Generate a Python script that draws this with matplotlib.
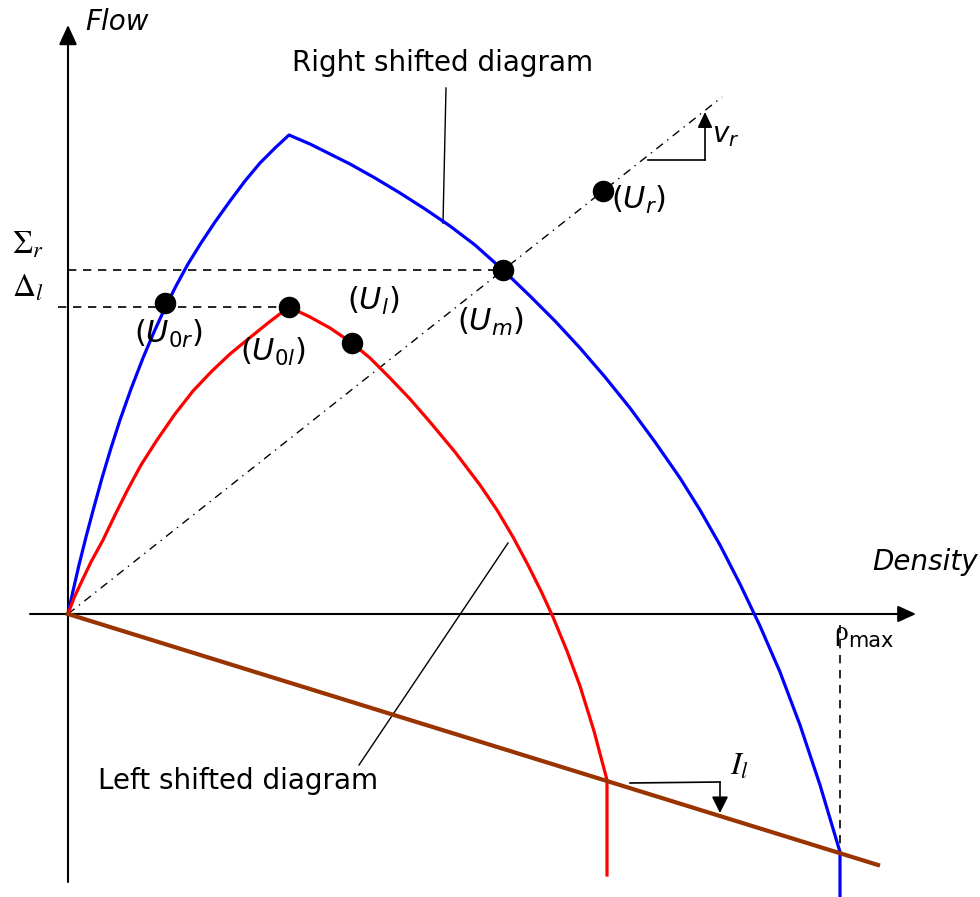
import matplotlib.pyplot as plt
from matplotlib.patches import FancyArrowPatch

# fundamental diagrams, in drawing units (x to the right, y downwards)
blue_x = [68, 73, 79, 86, 94, 102, 111, 120, 131, 143, 154, 165, 176, 188, 201, 215, 230, 245, 260, 275, 289,
          310, 330, 350, 375, 400, 425, 450, 475, 503, 530, 555, 580, 605, 630, 655, 680, 700,
          720, 740, 760, 780, 800, 820, 840, 840]
blue_y = [614, 591, 565, 537, 507, 478, 448, 420, 389, 358, 332, 308, 286, 264, 243, 222, 201, 181, 163, 148, 135,
          144, 154, 164, 178, 193, 209, 226, 245, 270, 296, 321, 348, 377, 408, 442, 478, 510,
          545, 584, 626, 672, 725, 785, 852, 897]

red_x = [68, 74, 80, 91, 103, 115, 127, 141, 157, 175, 193, 212, 230, 247, 268, 289,
         310, 330, 352, 370, 390, 410, 430, 455, 480, 497, 513, 528, 541, 553, 567, 580, 594, 607, 607]
red_y = [614, 598, 585, 562, 540, 515, 491, 465, 440, 414, 391, 371, 354, 340, 323, 307,
         317, 328, 343, 358, 378, 399, 422, 452, 485, 510, 537, 565, 591, 617, 651, 686, 731, 780, 875]

brown_x = [68, 878]
brown_y = [614, 865]

# characteristic through the origin
vr_x = [68, 722]
vr_y = [614, 97]

# states
state_x = [165, 289, 352, 503, 603]
state_y = [303, 307, 343, 270, 191]
state_labels = [r'$(U_{0r})$', r'$(U_{0l})$', r'$(U_l)$', r'$(U_m)$', r'$(U_r)$']
label_x = [134, 240, 347, 457, 611]
label_y = [334, 352, 301, 322, 200]

sigma_level = 270
delta_level = 307
rho_max = 840


def arrow(p0, p1, lw, hl, hw):
    # head sizes given in points
    ax.add_patch(FancyArrowPatch(p0, p1, arrowstyle=f'-|>,head_length={hl},head_width={hw}',
                                 mutation_scale=1, lw=lw, color='black', shrinkA=0, shrinkB=0))


fig = plt.figure(figsize=(9.8, 8.97), dpi=100)
ax = fig.add_axes([0, 0, 1, 1])
ax.set_xlim(0, 980)
ax.set_ylim(897, 0)
ax.axis('off')

# axes
arrow((68, 882), (68, 25), 1.5, 12, 5.5)
arrow((30, 614), (916, 614), 1.5, 11, 5)

ax.plot(blue_x, blue_y, color='#0000ff', lw=2.3, solid_joinstyle='round', zorder=3)
ax.plot(red_x, red_y, color='#ff0000', lw=2.3, solid_joinstyle='round', zorder=3)
ax.plot(brown_x, brown_y, color='#993300', lw=3.0, zorder=3)
ax.plot(vr_x, vr_y, color='black', lw=1.0, ls=(0, (6, 4, 1, 4)), zorder=2)

# dashed level lines
ax.plot([68, state_x[3]], [sigma_level, sigma_level], color='black', lw=1.2, ls=(0, (5, 4)))
ax.plot([58, state_x[1]], [delta_level, delta_level], color='black', lw=1.2, ls=(0, (5, 4)))
ax.plot([rho_max, rho_max], [625, 852], color='black', lw=1.2, ls=(0, (5, 4)))

ax.scatter(state_x, state_y, s=210, color='black', zorder=5)

fs = 20
ax.text(85, 22, 'Flow', fontsize=fs, style='italic', va='center')
ax.text(872, 562, 'Density', fontsize=fs, style='italic', va='center')
ax.text(834, 634, 'ρ', fontsize=fs, family='Liberation Serif', va='center')
ax.text(848, 641, 'max', fontsize=15, va='center')
ax.text(12, 245, r'$\Sigma_r$', fontsize=23, va='center', math_fontfamily='stix')
ax.text(12, 288, r'$\Delta_l$', fontsize=23, va='center', math_fontfamily='stix')

ax.text(292, 63, 'Right shifted diagram', fontsize=fs, va='center')
ax.plot([446, 443], [88, 223], color='black', lw=1.0)
ax.text(98, 781, 'Left shifted diagram', fontsize=fs, va='center', zorder=4)
ax.plot([508, 359], [543, 765], color='black', lw=1.0)

for lx, ly, t in zip(label_x, label_y, state_labels):
    ax.text(lx, ly, t, fontsize=22, va='center')

# slope markers
ax.plot([648, 705], [160, 160], color='black', lw=1.2)
arrow((705, 160), (705, 112), 1.2, 9.5, 4.5)
ax.text(712, 135, r'$v_r$', fontsize=fs, va='center')

ax.plot([630, 720], [783, 782], color='black', lw=1.2)
arrow((720, 782), (720, 813), 1.2, 10, 5)
ax.text(730, 766, r'$I_l$', fontsize=23, va='center', math_fontfamily='stix')

fig.savefig('out.png', dpi=100)
